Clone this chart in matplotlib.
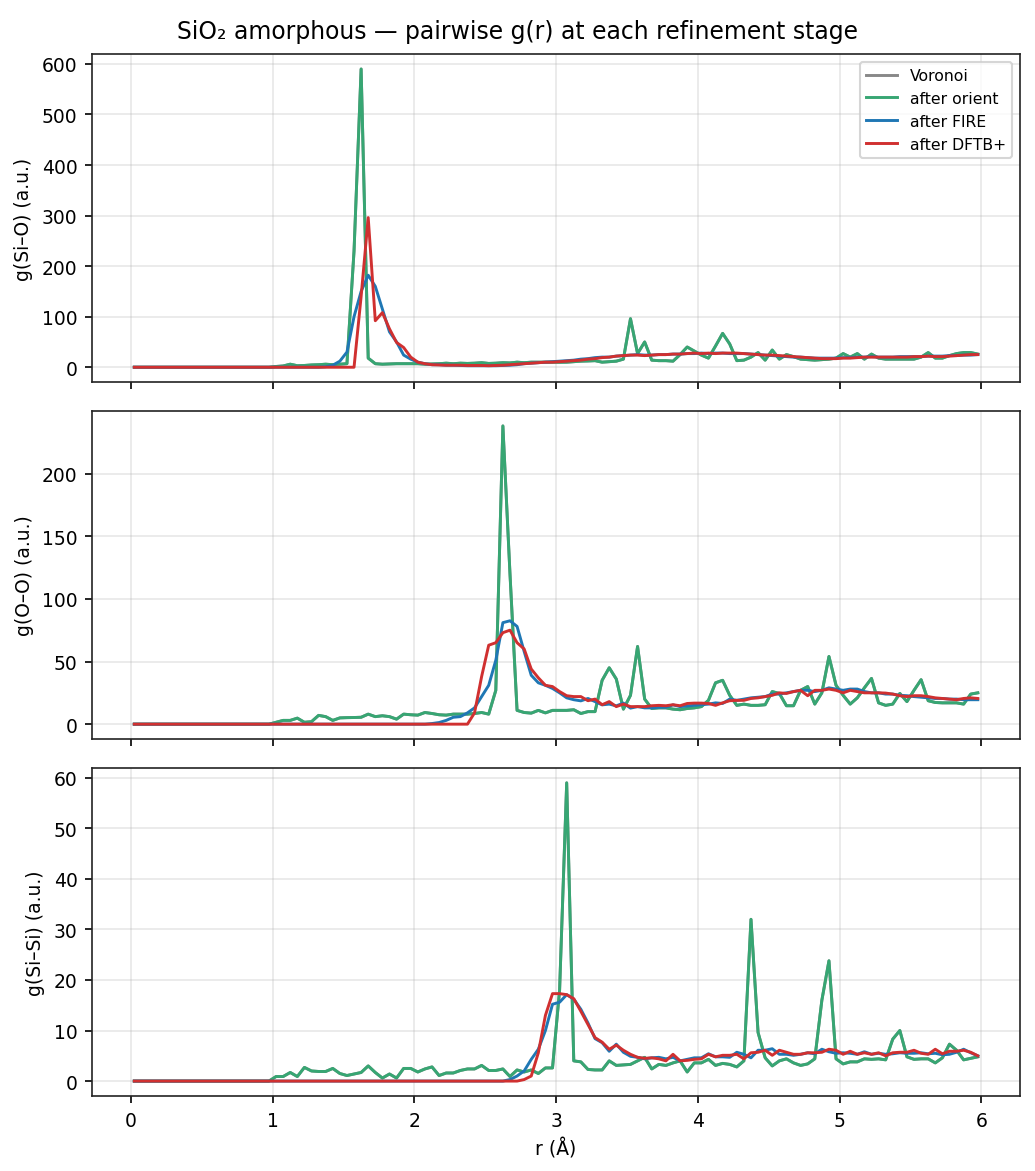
# SiO2 amorphous - pairwise g(r) at each refinement stage

import numpy as np
import matplotlib
matplotlib.use("Agg")
import matplotlib.pyplot as plt

plt.rcParams["font.size"] = 9

# r grid (bin centres, 0.05 A bins)
r = np.round(np.arange(120) * 0.05 + 0.025, 3)

# g(Si-O)
sio_orient = [
    0, 0, 0, 0, 0, 0, 0, 0, 0, 0,
    0, 0, 0, 0, 0, 0, 0, 0, 0, 0,
    1.5, 2.5, 6.0, 3.0, 3.5, 4.5, 5.0, 6.0, 5.0, 6.0,
    7.0, 230, 590, 18, 7, 6, 6.5, 7, 7, 7,
    7, 6, 6.5, 7, 8, 7, 8, 7.5, 8, 9,
    7.5, 8, 9, 8.5, 10, 9, 10, 10, 10, 10,
    9.8, 10, 11, 12, 12.4, 13, 10, 11, 12, 16,
    96, 27, 50, 14, 13, 13, 12, 25, 40, 32,
    24, 18, 42, 67, 46, 13, 14, 20, 29, 14,
    34, 16, 25, 21, 16, 15, 14, 15, 16, 18,
    27, 20, 27, 16, 26, 18, 16, 16, 16, 16,
    16, 20, 29, 18, 18, 23, 27, 29, 29, 26,
]
sio_voronoi = list(sio_orient)
sio_fire = [
    0, 0, 0, 0, 0, 0, 0, 0, 0, 0,
    0, 0, 0, 0, 0, 0, 0, 0, 0, 0,
    0, 0, 0, 0, 0, 0, 0, 1, 4, 12,
    30, 100, 150, 182, 160, 115, 70, 50, 24, 16,
    10, 7, 5, 5, 4, 4, 3.5, 3, 3, 3,
    3, 3, 3.5, 4, 5, 7, 8, 9, 10, 11,
    12, 13, 14, 16, 17, 19, 20, 20, 22, 23,
    24, 25, 24, 24, 25, 25, 26, 26, 27, 27,
    28, 27, 28, 28, 27, 27, 27, 26, 25, 24,
    23, 22, 21, 20, 20, 19, 18, 18, 18, 18,
    19, 19, 20, 20, 21, 20, 20, 20, 21, 21,
    21, 21, 22, 22, 22, 23, 23, 24, 24, 25,
]
sio_dftb = [
    0, 0, 0, 0, 0, 0, 0, 0, 0, 0,
    0, 0, 0, 0, 0, 0, 0, 0, 0, 0,
    0, 0, 0, 0, 0, 0, 0, 0, 0, 0,
    0, 0, 140, 296, 92, 108, 76, 49, 39, 20,
    10, 7, 5, 4.5, 4, 4, 4, 3.5, 3.5, 3.5,
    3, 3.5, 4, 5, 6, 7, 8, 9, 10, 10,
    11, 12, 13, 14, 16, 17, 19, 20, 22, 23,
    24, 24, 23, 24, 25, 25, 26, 26, 27, 28,
    27, 28, 27, 28, 28, 28, 27, 26, 25, 24,
    24, 23, 22, 21, 20, 19, 18, 17, 17, 17,
    18, 18, 19, 20, 20, 20, 20, 20, 20, 20,
    21, 21, 22, 21, 21, 22, 23, 24, 25, 25,
]

# g(O-O)
oo_orient = [
    0, 0, 0, 0, 0, 0, 0, 0, 0, 0,
    0, 0, 0, 0, 0, 0, 0, 0, 0, 0,
    1.5, 3.0, 3.0, 4.8, 1.5, 2.0, 7.0, 6.0, 3.0, 5.0,
    5.2, 5.3, 5.5, 8.0, 6.0, 6.7, 6.0, 4.0, 8.0, 7.5,
    7.2, 9.3, 8.5, 7.5, 7.2, 8.0, 8.0, 8.0, 8.5, 9.3,
    8.0, 27, 238, 120, 11, 9.3, 8.8, 11, 9, 11,
    11, 11, 11.5, 8.5, 10, 10, 35, 45, 36, 12,
    23, 62, 20, 12.5, 13, 13, 12, 11.5, 12.5, 13,
    14, 19, 33, 35, 23, 15, 16, 15, 15, 15.5,
    26, 24.5, 14.7, 14.7, 27, 30, 16, 25, 54, 31,
    23, 16, 21, 29, 36.5, 17, 15, 16, 24.5, 18,
    27, 35.5, 18.7, 17.3, 17, 17, 17, 16, 24, 25,
]
oo_voronoi = list(oo_orient)
oo_fire = [
    0, 0, 0, 0, 0, 0, 0, 0, 0, 0,
    0, 0, 0, 0, 0, 0, 0, 0, 0, 0,
    0, 0, 0, 0, 0, 0, 0, 0, 0, 0,
    0, 0, 0, 0, 0, 0, 0, 0, 0, 0,
    0, 0, 0.5, 1.3, 3, 5.5, 6, 9, 13, 22,
    31, 51, 81, 82.5, 78, 58, 39, 33, 31, 28.5,
    25, 21, 19.5, 18.6, 20.5, 18, 15.4, 16, 14.6, 16.8,
    12.8, 14, 13, 13, 13.5, 13.5, 15.4, 14, 14.5, 15,
    15.5, 16, 17, 16.5, 20, 19, 20, 21, 21.5, 22,
    24, 24, 25, 26, 27, 27, 26, 27, 29, 28,
    27, 28, 28, 26, 25, 25, 24, 24, 23, 22.7,
    22, 21.5, 21, 20.5, 20.5, 20, 20, 19.5, 19.5, 19.5,
]
oo_dftb = [
    0, 0, 0, 0, 0, 0, 0, 0, 0, 0,
    0, 0, 0, 0, 0, 0, 0, 0, 0, 0,
    0, 0, 0, 0, 0, 0, 0, 0, 0, 0,
    0, 0, 0, 0, 0, 0, 0, 0, 0, 0,
    0, 0, 0, 0, 0, 0, 0, 0, 9, 38,
    63, 65, 73, 75, 65, 60, 44, 37, 31, 30,
    26, 22.7, 22, 22, 18.7, 20, 15.5, 18, 14, 16,
    14, 14, 14, 14.7, 15, 14.7, 15.5, 14.7, 16.5, 16.8,
    16.8, 16.5, 15, 17, 18.7, 19, 19, 20.5, 21, 22,
    23, 25, 24.5, 26, 27, 22.7, 27, 27, 28, 27,
    25, 27, 26, 25, 25, 25, 24.8, 24, 22.7, 22,
    22.7, 22.7, 22, 21, 20.5, 20, 19.5, 20.5, 21, 20.5,
]

# g(Si-Si)
sisi_orient = [
    0, 0, 0, 0, 0, 0, 0, 0, 0, 0,
    0, 0, 0, 0, 0, 0, 0, 0, 0, 0,
    0.9, 0.9, 1.7, 0.9, 2.7, 2.0, 1.9, 1.9, 2.5, 1.5,
    1.1, 1.4, 1.7, 3.0, 1.7, 0.6, 1.4, 0.6, 2.5, 2.5,
    1.8, 2.4, 2.8, 1.1, 1.6, 1.6, 2.1, 2.4, 2.4, 3.1,
    2.1, 2.1, 2.4, 0.9, 2.2, 1.8, 2.2, 1.5, 2.6, 2.6,
    18, 59, 4.0, 3.8, 2.3, 2.2, 2.2, 4.0, 3.1, 3.2,
    3.3, 4.0, 4.7, 2.4, 3.3, 3.1, 3.6, 4.0, 1.8, 3.6,
    3.6, 4.3, 3.1, 3.5, 3.3, 2.8, 4.0, 32, 9.6, 4.6,
    3.0, 4.0, 4.4, 3.6, 3.1, 3.4, 4.4, 16, 23.8, 4.4,
    3.4, 3.8, 3.8, 4.4, 4.3, 4.4, 4.2, 8.3, 10, 4.8,
    4.3, 4.4, 4.4, 3.6, 4.6, 7.3, 6.1, 4.2, 4.5, 4.8,
]
sisi_voronoi = list(sisi_orient)
sisi_fire = [
    0, 0, 0, 0, 0, 0, 0, 0, 0, 0,
    0, 0, 0, 0, 0, 0, 0, 0, 0, 0,
    0, 0, 0, 0, 0, 0, 0, 0, 0, 0,
    0, 0, 0, 0, 0, 0, 0, 0, 0, 0,
    0, 0, 0, 0, 0, 0, 0, 0, 0, 0,
    0, 0, 0, 0.3, 1, 2, 4.3, 6.3, 10, 15.2,
    15.6, 17.1, 16.2, 14.2, 11.5, 8.4, 7.6, 5.9, 7.3, 5.7,
    4.9, 4.7, 4.4, 4.6, 4.7, 4.4, 4.7, 4.0, 4.3, 4.6,
    4.6, 5.4, 4.8, 4.8, 4.7, 5.7, 5.3, 4.6, 6.1, 6.1,
    6.4, 5.3, 5.3, 5.1, 5.3, 5.6, 5.4, 6.3, 5.8, 5.5,
    5.6, 5.5, 5.3, 5.8, 5.3, 5.5, 5.3, 5.4, 5.6, 5.5,
    5.5, 5.6, 5.4, 5.5, 5.2, 5.3, 5.7, 6.3, 5.6, 5.0,
]
sisi_dftb = [
    0, 0, 0, 0, 0, 0, 0, 0, 0, 0,
    0, 0, 0, 0, 0, 0, 0, 0, 0, 0,
    0, 0, 0, 0, 0, 0, 0, 0, 0, 0,
    0, 0, 0, 0, 0, 0, 0, 0, 0, 0,
    0, 0, 0, 0, 0, 0, 0, 0, 0, 0,
    0, 0, 0, 0, 0, 0.3, 1, 5.6, 13, 17.3,
    17.3, 17.1, 16.3, 13.8, 11.2, 8.6, 7.7, 6.3, 7.1, 6.1,
    5.3, 4.7, 4.5, 4.6, 4.4, 4.0, 5.3, 4.0, 4.1, 4.3,
    4.4, 5.3, 4.8, 5.1, 5.1, 5.3, 4.4, 5.6, 5.7, 6.1,
    5.1, 6.1, 5.7, 5.3, 5.3, 5.6, 5.6, 5.7, 6.3, 6.1,
    5.3, 5.9, 5.3, 5.6, 5.3, 5.6, 5.0, 5.6, 5.7, 5.7,
    6.1, 5.5, 5.3, 6.3, 5.4, 5.9, 5.9, 6.1, 5.7, 5.0,
]

stages = ["Voronoi", "after orient", "after FIRE", "after DFTB+"]
colors = ["#888888", "#37a673", "#1f77b4", "#d03030"]
pairs = ["Si–O", "O–O", "Si–Si"]
curves = [
    [sio_voronoi, sio_orient, sio_fire, sio_dftb],
    [oo_voronoi, oo_orient, oo_fire, oo_dftb],
    [sisi_voronoi, sisi_orient, sisi_fire, sisi_dftb],
]

fig, axes = plt.subplots(3, 1, figsize=(6.9, 7.8133), dpi=150, sharex=True)
fig.subplots_adjust(left=0.089, right=0.9855, top=0.953, bottom=0.064, hspace=0.088)

for ax, pair, series in zip(axes, pairs, curves):
    for name, col, g in zip(stages, colors, series):
        ax.plot(r, g, color=col, lw=1.4, label=name)
    ax.set_ylabel(f"g({pair}) (a.u.)")
    ax.grid(True, alpha=0.3)
    for sp in ax.spines.values():
        sp.set_color("#222222")

axes[0].legend(loc="upper right", fontsize=7.5)
axes[-1].set_xlabel("r (Å)")
fig.suptitle("SiO₂ amorphous — pairwise g(r) at each refinement stage", fontsize=11.3, y=0.983)

plt.savefig("out.png", dpi=150)
